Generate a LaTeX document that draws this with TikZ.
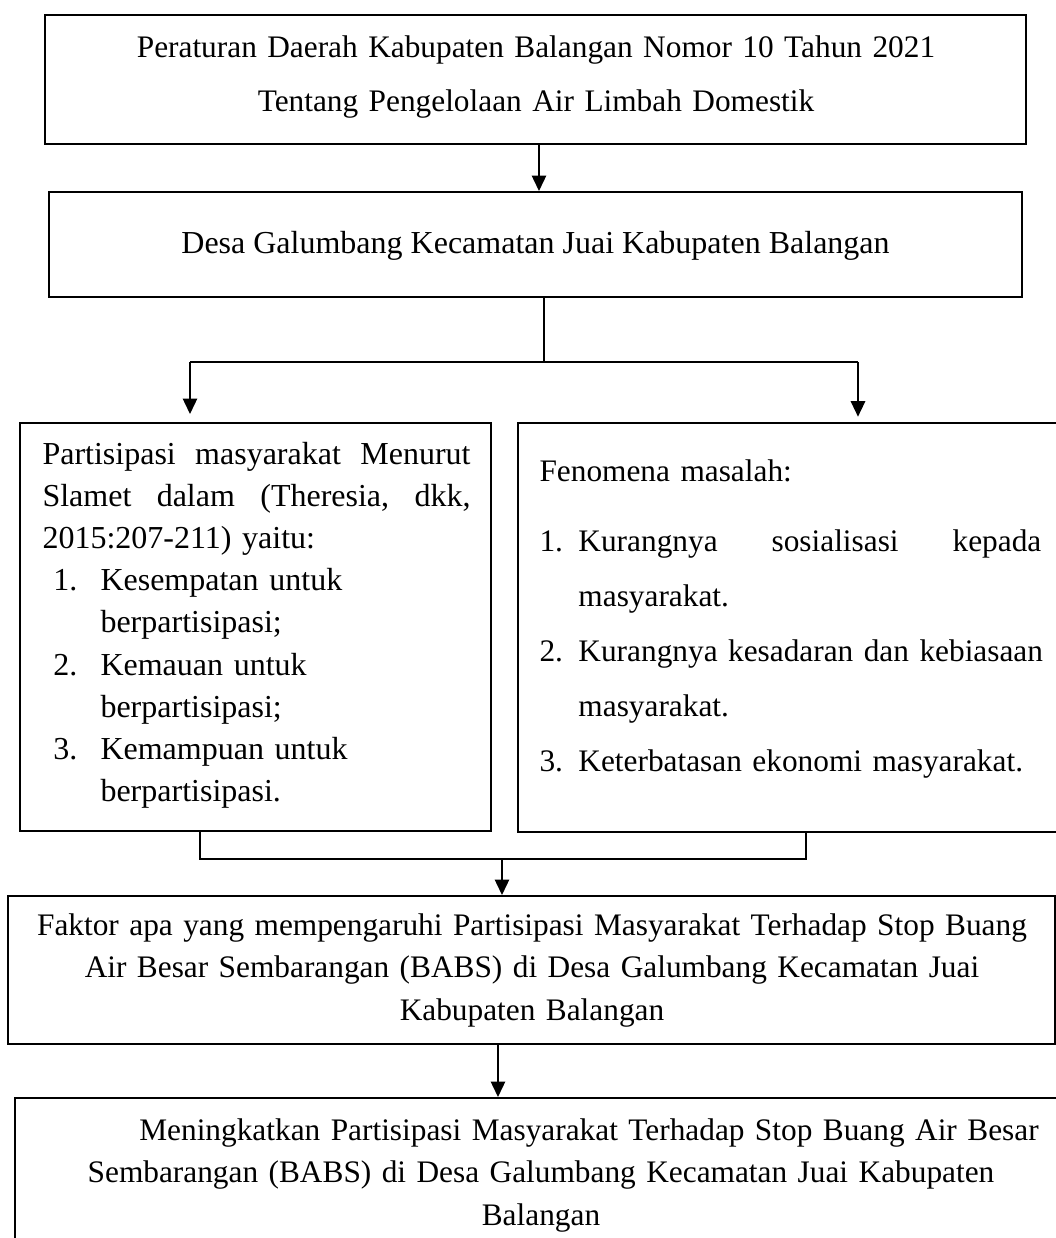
\documentclass[tikz,border=0pt]{standalone}
\usepackage{fontspec}
\setmainfont{Liberation Serif}
\usetikzlibrary{arrows.meta,fit}
\begin{document}
\begin{tikzpicture}[x=0.375pt,y=-0.375pt,
  box/.style={draw, line width=0.75pt, inner sep=0pt},
  txt/.style={inner sep=0pt, font=\fontsize{11.75}{16.1}\selectfont},
  conn/.style={line width=0.6pt},
  arr/.style={conn, -{Triangle[length=5.8pt,width=5.4pt]}}]
\useasboundingbox (0,0) rectangle (1056,1238);

% boxes
\node[box, fit={(45,15) (1026,144)}] (b1) {};
\node[box, fit={(49,192) (1022,297)}] (b2) {};
\node[box, fit={(20,423) (491,831)}] (b3) {};
\node[box, fit={(518,423) (1075,832)}] (b4) {};
\node[box, fit={(8,896) (1055,1044)}] (b5) {};
\node[box, fit={(15,1098) (1075,1260)}] (b6) {};

% texts
\node[txt, anchor=base, text width=380pt, align=center, font=\fontsize{11.75}{20.6}\selectfont] (t1) at (536,57)
  {Peraturan Daerah Kabupaten Balangan Nomor 10 Tahun 2021\\Tentang Pengelolaan Air Limbah Domestik};
\node[txt, anchor=base, font=\fontsize{12}{16}\selectfont] (t2) at (535.5,253) {Desa Galumbang Kecamatan Juai Kabupaten Balangan};

\node[txt, anchor=base west, text width=170pt, font=\fontsize{12}{15.84}\selectfont] (t3) at (42,464) {%
\makebox[160.5pt][l]{Partisipasi\hfill masyarakat\hfill Menurut}\par
\makebox[160.5pt][l]{Slamet\hfill dalam\hfill (Theresia,\hfill dkk,}\par
2015:207-211) yaitu:\par
\hspace*{4.1pt}\makebox[17.65pt][l]{1.}Kesempatan untuk\par
\hspace*{21.75pt}berpartisipasi;\par
\hspace*{4.1pt}\makebox[17.65pt][l]{2.}Kemauan untuk\par
\hspace*{21.75pt}berpartisipasi;\par
\hspace*{4.1pt}\makebox[17.65pt][l]{3.}Kemampuan untuk\par
\hspace*{21.75pt}berpartisipasi.};

\node[txt, anchor=base west, text width=200pt, font=\fontsize{11.75}{20.6}\selectfont] (t4) at (539,481) {%
Fenomena masalah:\par\vspace{6pt}
\makebox[14.6pt][l]{1.}\makebox[173.6pt][l]{Kurangnya\hfill sosialisasi\hfill kepada}\par
\hspace*{14.6pt}masyarakat.\par
\makebox[14.6pt][l]{2.}Kurangnya kesadaran dan kebiasaan\par
\hspace*{14.6pt}masyarakat.\par
\makebox[14.6pt][l]{3.}Keterbatasan ekonomi masyarakat.};

\node[txt, anchor=base, text width=390pt, align=center] (t5) at (532,935)
  {Faktor apa yang mempengaruhi Partisipasi Masyarakat Terhadap Stop Buang\\Air Besar Sembarangan (BABS) di Desa Galumbang Kecamatan Juai\\Kabupaten Balangan};
\node[txt, anchor=base, text width=390pt, align=center] (t6) at (541,1140)
  {\hspace*{36pt}Meningkatkan Partisipasi Masyarakat Terhadap Stop Buang Air Besar\\Sembarangan (BABS) di Desa Galumbang Kecamatan Juai Kabupaten\\Balangan};

% connectors
\coordinate (a1) at (539,0);
\draw[arr] (b1.south -| a1) -- (b2.north -| a1);
\coordinate (j) at (544,362);
\coordinate (jl) at (190,362);
\coordinate (jr) at (858,362);
\draw[conn] (b2.south -| j) -- (j);
\draw[conn] (jl) -- (jr);
\draw[arr, shorten >=3pt] (jl) -- (b3.north -| jl);
\draw[arr, shorten >=2pt] (jr) -- (b4.north -| jr);
\coordinate (ml) at (200,859);
\coordinate (mr) at (806,859);
\coordinate (mc) at (502,859);
\draw[conn] (b3.south -| ml) -- (ml) -- (mr) -- (b4.south -| mr);
\draw[arr] (mc) -- (b5.north -| mc);
\coordinate (a5) at (498,0);
\draw[arr] (b5.south -| a5) -- (b6.north -| a5);
\end{tikzpicture}
\end{document}
